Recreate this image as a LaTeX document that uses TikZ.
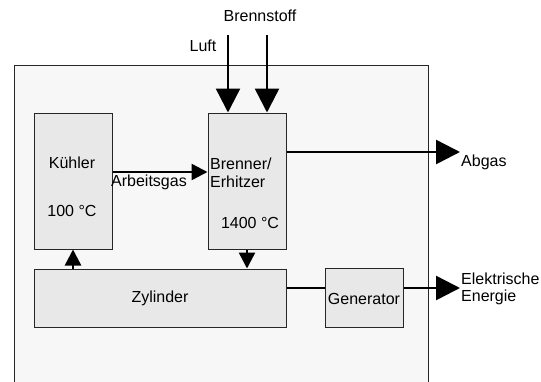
\documentclass[tikz,border=0pt]{standalone}
\usepackage{fontspec}
\setmainfont{Liberation Sans}
\usetikzlibrary{arrows.meta}
\definecolor{outergray}{HTML}{F7F7F7}
\definecolor{boxgray}{HTML}{E8E8E8}
\definecolor{edgegray}{HTML}{262626}
\begin{document}
\begin{tikzpicture}[x=1pt,y=-1pt,
  box/.style={draw=edgegray, fill=boxgray, line width=1pt, inner sep=0pt, minimum width=78pt},
  bigflow/.style={line width=2.5pt, -{Triangle[length=24pt,width=24pt]}},
  smallflow/.style={line width=2.5pt, -{Triangle[length=16pt,width=16pt]}},
  plain/.style={line width=2.5pt},
  lbl/.style={font=\fontsize{16}{18}\selectfont, inner sep=0pt, text=black}
]
\useasboundingbox (0,0) rectangle (541,381);
% plant frame (open at the bottom)
\node[fill=outergray, inner sep=0pt, minimum width=413.5pt, minimum height=316pt] (plant) at (221.25,223.5) {};
\draw[edgegray, line width=1pt] (plant.south west) -- (plant.north west) -- (plant.north east) -- (plant.south east);

% boxes
\node[box, minimum height=136pt] (kuehler) at (73,181) {};
\node[box, minimum height=136pt] (brenner) at (247,181) {};
\node[box, minimum width=252pt, minimum height=58pt] (zyl) at (160,298) {};
\node[box, minimum height=59pt] (gen) at (364,297.5) {};

% texts in boxes
\node[lbl] (kuehlername) at (72,163) {Kühler};
\node[lbl] (kuehlertemp) at (72,211) {100 °C};
\node[lbl, anchor=west, align=left] (brennername) at (210,172.5) {Brenner/\\Erhitzer};
\node[lbl] (brennertemp) at (250,223) {1400 °C};
\node[lbl] (zylname) at (160,298) {Zylinder};
\node[lbl] (genname) at (364,299) {Generator};

% outer labels
\node[lbl] (luft) at (203,46) {Luft};
\node[lbl] (brennstoff) at (260,16) {Brennstoff};
\node[lbl] (arbeitsgas) at (149,182) {Arbeitsgas};
\node[lbl, anchor=west] (abgas) at (461,162.5) {Abgas};
\node[lbl, anchor=west, align=left, font=\fontsize{16}{17}\selectfont] (elektro) at (461,288.5) {Elektrische\\Energie};

% connectors
\coordinate (luftsrc) at (228,35);
\coordinate (stoffsrc) at (267,35);
\coordinate (abgasend) at (460,152);
\coordinate (stromend) at (460,288);
\draw[bigflow] (luftsrc) -- (luftsrc |- brenner.north);
\draw[bigflow] (stoffsrc) -- (stoffsrc |- brenner.north);
\draw[smallflow] ([yshift=9pt]kuehler.east) -- ([yshift=9pt]brenner.west);
\draw[bigflow] (abgasend -| brenner.east) -- (abgasend);
\draw[smallflow] (brenner.south) -- (brenner.south |- zyl.north);
\draw[smallflow] (zyl.north -| kuehler.south) -- (kuehler.south);
\draw[plain] ([yshift=10pt]zyl.east) -- ([yshift=10pt]zyl.east -| gen.west);
\draw[bigflow] (stromend -| gen.east) -- (stromend);
\end{tikzpicture}
\end{document}
